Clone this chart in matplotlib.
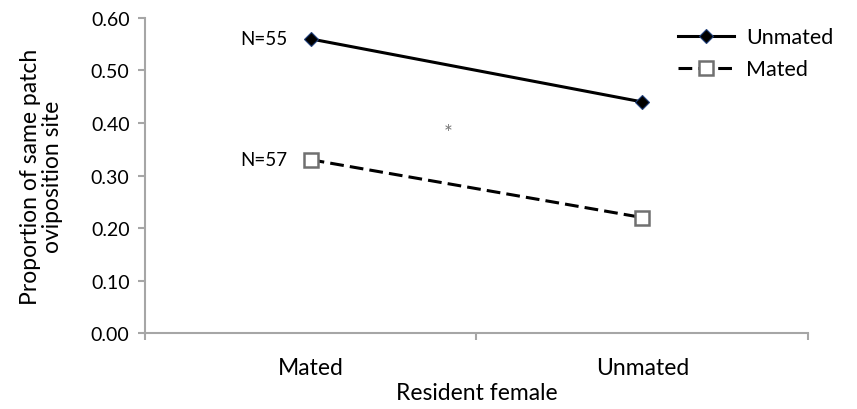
import matplotlib
matplotlib.use("Agg")
import matplotlib.pyplot as plt

# data
categories = ["Mated", "Unmated"]
unmated = [0.56, 0.44]
mated = [0.33, 0.22]
n_labels = ["N=55", "N=57"]
yticks = [0.0, 0.1, 0.2, 0.3, 0.4, 0.5, 0.6]

plt.rcParams["font.family"] = ["Lato", "DejaVu Sans"]
FS = 16.5

fig = plt.figure(figsize=(8.57, 4.10), dpi=100)
ax = fig.add_axes([0.169, 0.185, 0.774, 0.769])

x = list(range(len(categories)))
l1, = ax.plot(x, unmated, color="black", lw=2.2, marker="D", ms=7,
              mfc="black", mec="#1f3f7a", mew=0.8, label="Unmated")
l2, = ax.plot(x, mated, color="black", lw=2.2, ls=(0, (4.5, 2.0)), marker="s", ms=10,
              mfc="white", mec="#707070", mew=1.8, label="Mated")

ax.text(-0.07, unmated[0], n_labels[0], ha="right", va="center", fontsize=13.5)
ax.text(-0.07, mated[0], n_labels[1], ha="right", va="center", fontsize=13.5)
ax.text(0.415, 0.38, "*", ha="center", va="center", fontsize=15, color="#777777")

ax.set_xlim(-0.5, 1.5)
ax.set_ylim(0, 0.6)
ax.set_yticks(yticks)
ax.set_yticklabels([f"{v:.2f}" for v in yticks])
ax.set_xticks([-0.5, 0.5, 1.5])
ax.set_xticklabels([])
ax.set_xticks(x, minor=True)
ax.set_xticklabels(categories, minor=True)
ax.tick_params(axis="x", which="minor", length=0, pad=17, labelsize=FS)
ax.tick_params(axis="x", which="major", length=5, color="#a6a6a6", width=1.5)
ax.tick_params(axis="y", length=5, color="#a6a6a6", width=1.5, labelsize=14, pad=6)

for side in ["top", "right"]:
    ax.spines[side].set_visible(False)
for side in ["left", "bottom"]:
    ax.spines[side].set_color("#a6a6a6")
    ax.spines[side].set_linewidth(1.5)

ax.set_xlabel("Resident female", fontsize=FS, labelpad=3)
ax.set_ylabel("Proportion of same patch\noviposition site", fontsize=FS, labelpad=20,
              linespacing=1.05)

fig.legend(handles=[l1, l2], loc="upper left", bbox_to_anchor=(0.768, 0.978),
           frameon=False, fontsize=15.5, handlelength=2.6, handletextpad=0.6,
           labelspacing=0.55)

fig.savefig("out.png", dpi=100)
